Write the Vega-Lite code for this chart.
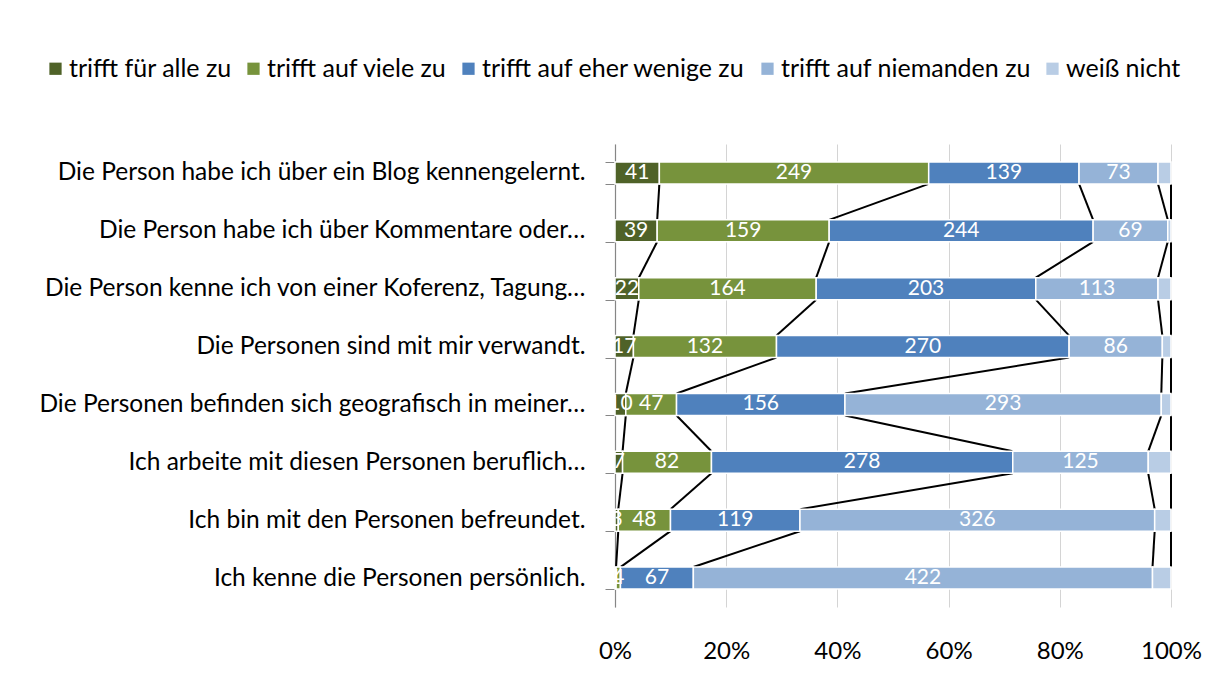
{
  "$schema": "https://vega.github.io/schema/vega-lite/v6.json",
  "width": 556,
  "height": 463,
  "autosize": {"type": "none"},
  "padding": {"left": 615, "top": 144, "right": 36, "bottom": 82},
  "background": "white",
  "config": {"view": {"stroke": null}, "font": "Lato"},
  "data": {"values": [
    {"r":1,"cat":"Die Person habe ich über ein Blog kennengelernt.","k":1,"s":"trifft für alle zu","v":41},
    {"r":1,"cat":"Die Person habe ich über ein Blog kennengelernt.","k":2,"s":"trifft auf viele zu","v":249},
    {"r":1,"cat":"Die Person habe ich über ein Blog kennengelernt.","k":3,"s":"trifft auf eher wenige zu","v":139},
    {"r":1,"cat":"Die Person habe ich über ein Blog kennengelernt.","k":4,"s":"trifft auf niemanden zu","v":73},
    {"r":1,"cat":"Die Person habe ich über ein Blog kennengelernt.","k":5,"s":"weiß nicht","v":12},
    {"r":2,"cat":"Die Person habe ich über Kommentare oder…","k":1,"s":"trifft für alle zu","v":39},
    {"r":2,"cat":"Die Person habe ich über Kommentare oder…","k":2,"s":"trifft auf viele zu","v":159},
    {"r":2,"cat":"Die Person habe ich über Kommentare oder…","k":3,"s":"trifft auf eher wenige zu","v":244},
    {"r":2,"cat":"Die Person habe ich über Kommentare oder…","k":4,"s":"trifft auf niemanden zu","v":69},
    {"r":2,"cat":"Die Person habe ich über Kommentare oder…","k":5,"s":"weiß nicht","v":3},
    {"r":3,"cat":"Die Person kenne ich von einer Koferenz, Tagung…","k":1,"s":"trifft für alle zu","v":22},
    {"r":3,"cat":"Die Person kenne ich von einer Koferenz, Tagung…","k":2,"s":"trifft auf viele zu","v":164},
    {"r":3,"cat":"Die Person kenne ich von einer Koferenz, Tagung…","k":3,"s":"trifft auf eher wenige zu","v":203},
    {"r":3,"cat":"Die Person kenne ich von einer Koferenz, Tagung…","k":4,"s":"trifft auf niemanden zu","v":113},
    {"r":3,"cat":"Die Person kenne ich von einer Koferenz, Tagung…","k":5,"s":"weiß nicht","v":12},
    {"r":4,"cat":"Die Personen sind mit mir verwandt.","k":1,"s":"trifft für alle zu","v":17},
    {"r":4,"cat":"Die Personen sind mit mir verwandt.","k":2,"s":"trifft auf viele zu","v":132},
    {"r":4,"cat":"Die Personen sind mit mir verwandt.","k":3,"s":"trifft auf eher wenige zu","v":270},
    {"r":4,"cat":"Die Personen sind mit mir verwandt.","k":4,"s":"trifft auf niemanden zu","v":86},
    {"r":4,"cat":"Die Personen sind mit mir verwandt.","k":5,"s":"weiß nicht","v":8},
    {"r":5,"cat":"Die Personen befinden sich geografisch in meiner…","k":1,"s":"trifft für alle zu","v":10},
    {"r":5,"cat":"Die Personen befinden sich geografisch in meiner…","k":2,"s":"trifft auf viele zu","v":47},
    {"r":5,"cat":"Die Personen befinden sich geografisch in meiner…","k":3,"s":"trifft auf eher wenige zu","v":156},
    {"r":5,"cat":"Die Personen befinden sich geografisch in meiner…","k":4,"s":"trifft auf niemanden zu","v":293},
    {"r":5,"cat":"Die Personen befinden sich geografisch in meiner…","k":5,"s":"weiß nicht","v":9},
    {"r":6,"cat":"Ich arbeite mit diesen Personen beruflich…","k":1,"s":"trifft für alle zu","v":7},
    {"r":6,"cat":"Ich arbeite mit diesen Personen beruflich…","k":2,"s":"trifft auf viele zu","v":82},
    {"r":6,"cat":"Ich arbeite mit diesen Personen beruflich…","k":3,"s":"trifft auf eher wenige zu","v":278},
    {"r":6,"cat":"Ich arbeite mit diesen Personen beruflich…","k":4,"s":"trifft auf niemanden zu","v":125},
    {"r":6,"cat":"Ich arbeite mit diesen Personen beruflich…","k":5,"s":"weiß nicht","v":21},
    {"r":7,"cat":"Ich bin mit den Personen befreundet.","k":1,"s":"trifft für alle zu","v":3},
    {"r":7,"cat":"Ich bin mit den Personen befreundet.","k":2,"s":"trifft auf viele zu","v":48},
    {"r":7,"cat":"Ich bin mit den Personen befreundet.","k":3,"s":"trifft auf eher wenige zu","v":119},
    {"r":7,"cat":"Ich bin mit den Personen befreundet.","k":4,"s":"trifft auf niemanden zu","v":326},
    {"r":7,"cat":"Ich bin mit den Personen befreundet.","k":5,"s":"weiß nicht","v":15},
    {"r":8,"cat":"Ich kenne die Personen persönlich.","k":1,"s":"trifft für alle zu","v":1},
    {"r":8,"cat":"Ich kenne die Personen persönlich.","k":2,"s":"trifft auf viele zu","v":4},
    {"r":8,"cat":"Ich kenne die Personen persönlich.","k":3,"s":"trifft auf eher wenige zu","v":67},
    {"r":8,"cat":"Ich kenne die Personen persönlich.","k":4,"s":"trifft auf niemanden zu","v":422},
    {"r":8,"cat":"Ich kenne die Personen persönlich.","k":5,"s":"weiß nicht","v":17}
  ]},
  "encoding": {
    "y": {
      "field": "cat", "type": "nominal",
      "sort": {"field": "r", "op": "min"},
      "scale": {"paddingInner": 0.62, "paddingOuter": 0.31},
      "axis": {
        "title": null, "labelFontSize": 24.5, "labelColor": "#000000", "labelPadding": 20,
        "labelLimit": 700, "tickBand": "extent", "tickSize": 10,
        "domainColor": "#868686", "tickColor": "#868686", "domainWidth": 1.2
      }
    }
  },
  "layer": [
    {
      "transform": [
        {"joinaggregate": [{"op": "sum", "field": "v", "as": "tot"}], "groupby": ["cat"]},
        {"window": [{"op": "sum", "field": "v", "as": "cum"}], "groupby": ["cat"], "sort": [{"field": "k"}], "frame": [null, 0]},
        {"calculate": "datum.cum / datum.tot", "as": "f"},
        {"window": [{"op": "lead", "field": "f", "as": "nf"}, {"op": "lead", "field": "cat", "as": "ncat"}], "groupby": ["k"], "sort": [{"field": "r"}], "frame": [null, null]},
        {"filter": "datum.ncat != null"}
      ],
      "mark": {"type": "rule", "color": "#000000", "strokeWidth": 2},
      "encoding": {
        "x": {"field": "f", "type": "quantitative"},
        "x2": {"field": "nf"},
        "y": {"field": "cat", "type": "nominal", "sort": {"field": "r", "op": "min"}, "bandPosition": 1},
        "y2": {"field": "ncat", "bandPosition": 0}
      }
    },
    {
      "mark": {"type": "bar", "stroke": "white", "strokeWidth": 1.5},
      "encoding": {
        "x": {
          "field": "v", "type": "quantitative", "stack": "normalize",
          "scale": {"domain": [0, 1]},
          "axis": {
            "title": null, "format": "%", "values": [0, 0.2, 0.4, 0.6, 0.8, 1],
            "domain": false, "ticks": false, "grid": true, "gridColor": "#d4d4d4", "gridWidth": 1,
            "labelFlush": false,
            "labelFontSize": 24, "labelColor": "#000000", "labelPadding": 32
          }
        },
        "color": {
          "field": "s", "type": "nominal",
          "scale": {
            "domain": ["trifft für alle zu", "trifft auf viele zu", "trifft auf eher wenige zu", "trifft auf niemanden zu", "weiß nicht"],
            "range": ["#4F6228", "#77933C", "#4F81BD", "#95B3D7", "#B9CDE5"]
          },
          "legend": {
            "orient": "none", "legendX": -572, "legendY": -88, "direction": "horizontal",
            "title": null, "symbolType": "square", "symbolSize": 150, "symbolStrokeWidth": 0,
            "labelFontSize": 25, "labelColor": "#000000", "labelLimit": 0, "columnPadding": 9, "labelOffset": 1
          }
        },
        "order": {"field": "k"}
      }
    },
    {
      "mark": {"type": "text", "color": "white", "fontSize": 21, "baseline": "middle"},
      "encoding": {
        "x": {"field": "v", "type": "quantitative", "stack": "normalize", "bandPosition": 0.5},
        "detail": {"field": "s"},
        "order": {"field": "k"},
        "text": {"condition": {"test": "datum.k <= 4", "field": "v", "type": "quantitative"}, "value": ""}
      }
    }
  ]
}
